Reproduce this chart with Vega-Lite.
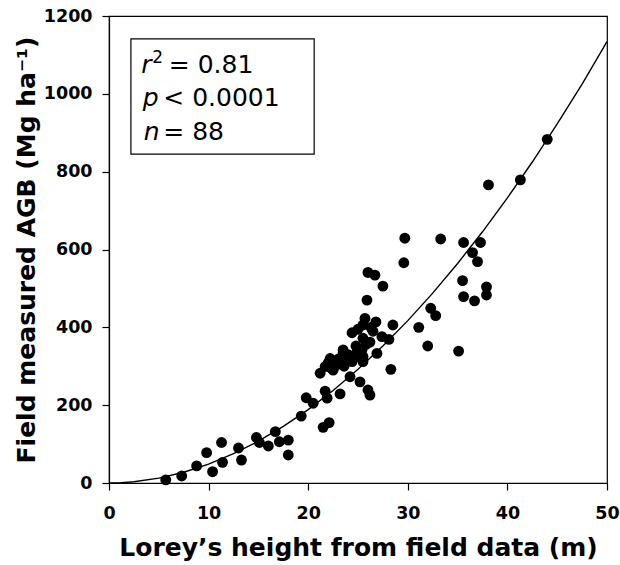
{
  "$schema": "https://vega.github.io/schema/vega-lite/v6.json",
  "width": 498,
  "height": 467,
  "autosize": {"type": "none"},
  "padding": {"left": 109, "top": 16, "right": 13, "bottom": 82},
  "background": "white",
  "config": {
    "view": {"stroke": "black", "strokeWidth": 1.2},
    "axis": {
      "domainColor": "black", "tickColor": "black", "grid": false,
      "labelFont": "DejaVu Sans", "labelFontWeight": "bold", "labelFontSize": 17.5, "labelColor": "black",
      "titleFont": "DejaVu Sans", "titleFontWeight": "bold", "titleFontSize": 25, "titleColor": "black",
      "tickSize": 7, "domainWidth": 1.2, "tickWidth": 1.2, "labelOverlap": false, "labelFlush": false
    }
  },
  "datasets": {
    "pts": [
      {"H": 5.7, "AGB": 8}, {"H": 7.3, "AGB": 18}, {"H": 8.8, "AGB": 44}, {"H": 9.8, "AGB": 78},
      {"H": 10.4, "AGB": 29}, {"H": 11.3, "AGB": 104}, {"H": 11.4, "AGB": 53}, {"H": 13.0, "AGB": 90},
      {"H": 13.3, "AGB": 59}, {"H": 14.8, "AGB": 117}, {"H": 15.1, "AGB": 104}, {"H": 16.0, "AGB": 95},
      {"H": 16.7, "AGB": 132}, {"H": 17.1, "AGB": 106}, {"H": 18.0, "AGB": 110}, {"H": 18.0, "AGB": 72},
      {"H": 19.3, "AGB": 172}, {"H": 19.8, "AGB": 219}, {"H": 20.5, "AGB": 205},
      {"H": 21.2, "AGB": 282}, {"H": 21.5, "AGB": 143}, {"H": 21.7, "AGB": 236}, {"H": 21.7, "AGB": 299},
      {"H": 21.9, "AGB": 218}, {"H": 22.0, "AGB": 308}, {"H": 22.1, "AGB": 155}, {"H": 22.2, "AGB": 320},
      {"H": 22.5, "AGB": 290}, {"H": 22.8, "AGB": 303}, {"H": 22.3, "AGB": 296},
      {"H": 23.2, "AGB": 229}, {"H": 23.2, "AGB": 308}, {"H": 23.0, "AGB": 318}, {"H": 23.5, "AGB": 333},
      {"H": 23.5, "AGB": 342}, {"H": 23.7, "AGB": 320}, {"H": 23.6, "AGB": 300},
      {"H": 24.0, "AGB": 330}, {"H": 24.2, "AGB": 273}, {"H": 24.4, "AGB": 312}, {"H": 24.4, "AGB": 386},
      {"H": 24.6, "AGB": 322}, {"H": 24.8, "AGB": 352}, {"H": 24.9, "AGB": 335},
      {"H": 25.2, "AGB": 260}, {"H": 25.0, "AGB": 395}, {"H": 25.4, "AGB": 342}, {"H": 25.5, "AGB": 312},
      {"H": 25.5, "AGB": 325}, {"H": 25.5, "AGB": 372}, {"H": 25.5, "AGB": 406}, {"H": 25.7, "AGB": 423},
      {"H": 25.8, "AGB": 356}, {"H": 25.9, "AGB": 470},
      {"H": 26.0, "AGB": 239}, {"H": 26.0, "AGB": 541}, {"H": 26.2, "AGB": 226}, {"H": 26.2, "AGB": 362},
      {"H": 26.5, "AGB": 390}, {"H": 26.3, "AGB": 400}, {"H": 26.7, "AGB": 534}, {"H": 26.8, "AGB": 414},
      {"H": 26.9, "AGB": 333},
      {"H": 27.4, "AGB": 376}, {"H": 27.5, "AGB": 506}, {"H": 28.1, "AGB": 369}, {"H": 28.3, "AGB": 292},
      {"H": 28.5, "AGB": 406},
      {"H": 29.6, "AGB": 566}, {"H": 29.7, "AGB": 629}, {"H": 31.1, "AGB": 400}, {"H": 32.0, "AGB": 352},
      {"H": 32.3, "AGB": 449}, {"H": 32.8, "AGB": 430}, {"H": 33.3, "AGB": 627},
      {"H": 35.1, "AGB": 339}, {"H": 35.5, "AGB": 520}, {"H": 35.6, "AGB": 479}, {"H": 35.6, "AGB": 618},
      {"H": 36.5, "AGB": 592}, {"H": 36.7, "AGB": 468}, {"H": 37.0, "AGB": 569}, {"H": 37.3, "AGB": 618},
      {"H": 37.9, "AGB": 483}, {"H": 37.9, "AGB": 504}, {"H": 38.1, "AGB": 766},
      {"H": 41.3, "AGB": 779}, {"H": 44.0, "AGB": 883}
    ],
    "fit": [
      {"H": 0, "AGB": 0}, {"H": 1.25, "AGB": 0.8}, {"H": 2.5, "AGB": 3.2}, {"H": 5, "AGB": 12.5},
      {"H": 7.5, "AGB": 27.7}, {"H": 10, "AGB": 48.6}, {"H": 12.5, "AGB": 75.2}, {"H": 15, "AGB": 107.4},
      {"H": 17.5, "AGB": 145.3}, {"H": 20, "AGB": 188.6}, {"H": 22.5, "AGB": 237.6}, {"H": 25, "AGB": 292.1},
      {"H": 27.5, "AGB": 351.9}, {"H": 30, "AGB": 417.2}, {"H": 32.5, "AGB": 487.9}, {"H": 35, "AGB": 564.1},
      {"H": 37.5, "AGB": 645.5}, {"H": 40, "AGB": 732.5}, {"H": 42.5, "AGB": 824.8}, {"H": 45, "AGB": 922.6},
      {"H": 47.5, "AGB": 1025}, {"H": 50, "AGB": 1134}
    ],
    "box": [{"x1": 2.2, "x2": 20.6, "y1": 845, "y2": 1141}],
    "ital": [
      {"t": "r", "H": 3.25, "AGB": 1053},
      {"t": "p", "H": 3.4, "AGB": 969},
      {"t": "n", "H": 3.5, "AGB": 881}
    ],
    "sup": [
      {"t": "2", "H": 4.35, "AGB": 1079}
    ],
    "norm": [
      {"t": "= 0.81", "H": 6.0, "AGB": 1053},
      {"t": "< 0.0001", "H": 5.45, "AGB": 969},
      {"t": "= 88", "H": 5.45, "AGB": 881}
    ]
  },
  "layer": [
    {
      "data": {"name": "box"},
      "mark": {"type": "rect", "fill": "white", "stroke": "black", "strokeWidth": 1.2},
      "encoding": {
        "x": {"field": "x1", "type": "quantitative", "scale": {"domain": [0, 50], "nice": false}},
        "x2": {"field": "x2"},
        "y": {"field": "y1", "type": "quantitative", "scale": {"domain": [0, 1200], "nice": false}},
        "y2": {"field": "y2"}
      }
    },
    {
      "data": {"name": "fit"},
      "mark": {"type": "line", "color": "black", "strokeWidth": 1.4, "clip": true},
      "encoding": {
        "x": {"field": "H", "type": "quantitative"},
        "y": {"field": "AGB", "type": "quantitative"}
      }
    },
    {
      "data": {"name": "pts"},
      "mark": {"type": "circle", "color": "black", "opacity": 1, "size": 118},
      "encoding": {
        "x": {"field": "H", "type": "quantitative", "scale": {"domain": [0, 50], "nice": false},
          "axis": {"values": [0, 10, 20, 30, 40, 50], "format": "d", "title": "Lorey’s height from field data (m)", "labelPadding": 14, "titlePadding": 14}},
        "y": {"field": "AGB", "type": "quantitative", "scale": {"domain": [0, 1200], "nice": false},
          "axis": {"values": [0, 200, 400, 600, 800, 1000, 1200], "format": "d", "title": "Field measured AGB (Mg ha⁻¹)", "labelPadding": 10, "titlePadding": 4}}
      }
    },
    {
      "data": {"name": "ital"},
      "mark": {"type": "text", "font": "DejaVu Sans", "fontStyle": "italic", "fontSize": 25, "align": "left", "baseline": "alphabetic", "color": "black"},
      "encoding": {
        "x": {"field": "H", "type": "quantitative"},
        "y": {"field": "AGB", "type": "quantitative"},
        "text": {"field": "t"}
      }
    },
    {
      "data": {"name": "sup"},
      "mark": {"type": "text", "font": "DejaVu Sans", "fontSize": 17, "align": "left", "baseline": "alphabetic", "color": "black"},
      "encoding": {
        "x": {"field": "H", "type": "quantitative"},
        "y": {"field": "AGB", "type": "quantitative"},
        "text": {"field": "t"}
      }
    },
    {
      "data": {"name": "norm"},
      "mark": {"type": "text", "font": "DejaVu Sans", "fontSize": 25, "align": "left", "baseline": "alphabetic", "color": "black"},
      "encoding": {
        "x": {"field": "H", "type": "quantitative"},
        "y": {"field": "AGB", "type": "quantitative"},
        "text": {"field": "t"}
      }
    }
  ]
}
